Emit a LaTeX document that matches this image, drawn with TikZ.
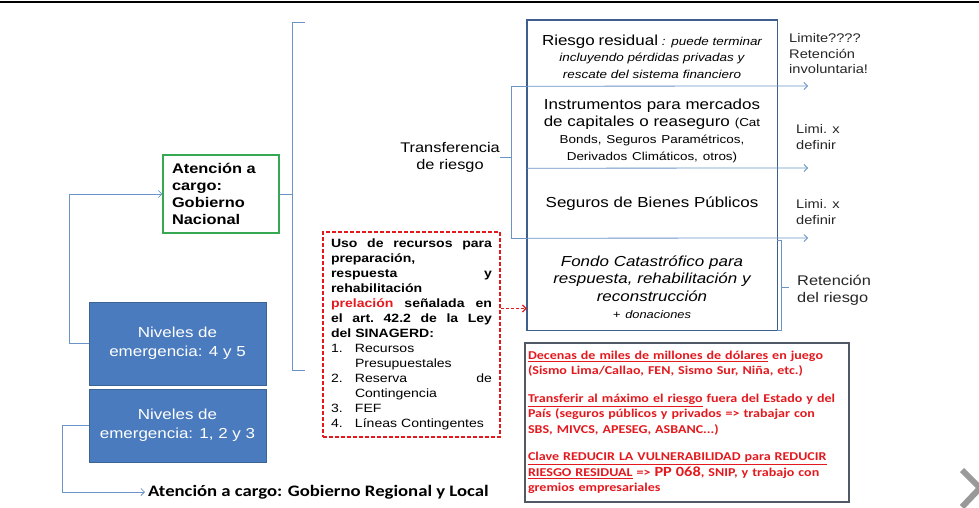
\documentclass[tikz,border=0pt]{standalone}
\usepackage{fontspec}
\setmainfont{Liberation Sans}[FakeStretch=1.17]
\newfontfamily\calib{Carlito}[FakeStretch=1.17]
\usetikzlibrary{arrows.meta}

\definecolor{linkblue}{HTML}{6A93C8}
\definecolor{framblue}{HTML}{3E5F8E}
\definecolor{nivfill}{HTML}{4A7BBE}
\definecolor{nivline}{HTML}{3B6494}
\definecolor{gobgreen}{HTML}{36A852}
\definecolor{alertred}{HTML}{E3191E}
\definecolor{notegray}{HTML}{505A66}

\begin{document}
\begin{tikzpicture}[x=1pt,y=-1pt,
    link/.style={draw=linkblue, line width=0.8pt},
    tip/.style={-{Straight Barb[length=3.5pt,width=7pt]}},
    nivel/.style={draw=nivline, fill=nivfill, text=white, minimum width=177pt,
        align=center, font=\fontsize{14.5}{19}\selectfont},
    gob/.style={draw=gobgreen, line width=1.1pt, minimum width=116pt, minimum height=78pt,
        text width=98pt, align=left, font=\bfseries\fontsize{14}{17}\selectfont},
    sect/.style={minimum width=250pt, text width=236pt, align=center, inner sep=0pt,
        font=\fontsize{14.5}{17}\selectfont},
    lbl/.style={align=left, inner sep=0pt, text=black!85,
        font=\fontsize{12.5}{15.5}\selectfont}]
\useasboundingbox (0,0) rectangle (979,507);
\draw[line width=2.5pt] (0,2) -- (979,2);

\node[nivel, minimum height=83pt] (N45) at (177.5,343.5) {Niveles de\\emergencia: 4 y 5};
\node[nivel, minimum height=73pt] (N123) at (177.5,425.5) {Niveles de\\emergencia: 1, 2 y 3};
\node[gob] (GN) at (221,194) {Atención a\\cargo:\\Gobierno\\Nacional};
\node[anchor=west, inner sep=3pt, font=\calib\bfseries\fontsize{16}{19}\selectfont] (RL) at (145,492)
    {Atención a cargo: Gobierno Regional y Local};

\draw[link,tip] (N45.west) -- ++(-19,0) |- (GN.west);
\draw[link,tip] (N123.west) -- ++(-26,0) |- (RL.west);

\coordinate (BT) at (305,22);
\coordinate (BB) at (305,370);
\draw[link] (BT) -- ++(-13,0) |- (BB);
\draw[link] (GN.east) -- +(13,0);

\coordinate (FT) at (527,20);
\node[sect, minimum height=59pt, font=\itshape\fontsize{11.5}{16.5}\selectfont] (RR) at (652,56.5)
    {{\upshape\fontsize{14.5}{16.5}\selectfont Riesgo residual} : puede terminar\\
     incluyendo pérdidas privadas y\\rescate del sistema financiero};
\node[sect, minimum height=74pt] (IM) at (652,131)
    {Instrumentos para mercados\\de capitales o reaseguro {\fontsize{11.5}{17}\selectfont (Cat}\\
     {\fontsize{11.5}{16.5}\selectfont Bonds, Seguros Paramétricos,}\\
     {\fontsize{11.5}{16.5}\selectfont Derivados Climáticos, otros)}};
\node[sect, minimum height=68pt] (SB) at (652,204) {Seguros de Bienes Públicos};
\node[sect, minimum height=86pt, font=\itshape\fontsize{14.5}{17.5}\selectfont] (FC) at (652,287)
    {Fondo Catastrófico para\\respuesta, rehabilitación y\\reconstrucción\\
     {\fontsize{11}{16}\selectfont + donaciones}};
\draw[draw=framblue, line width=1.4pt] (FT) rectangle (FC.south east);

\coordinate (L1) at (808,86);
\coordinate (L2) at (808,168);
\coordinate (L3) at (808,238);
\draw[link,tip] (RR.south west) -- (L1);
\draw[link,tip] (IM.south west) -- (L2);
\draw[link,tip] (SB.south west) -- (L3);

\node[lbl, anchor=west] (LR) at (789,54) {Limite????\\Retención\\involuntaria!};
\node[lbl, anchor=west] (LX1) at (796,137) {Limi. x\\definir};
\node[lbl, anchor=west] (LX2) at (796,212) {Limi. x\\definir};

\node[anchor=east, align=center, inner sep=0pt, font=\fontsize{14}{17}\selectfont] (TR) at (500,157)
    {Transferencia\\de riesgo};
\draw[link] (RR.south west) -- ++(-15,0) |- (SB.south west);
\draw[link] (TR.east) -- ++(12,0);

\draw[link] ([yshift=3pt]FC.north east) -- ++(4,0) |- (FC.south east);
\draw[link] ([xshift=4pt]FC.east) -- ++(8,0);
\node[lbl, anchor=west, font=\fontsize{14}{17}\selectfont] (RT) at (797,290) {Retención\\del riesgo};

\node[draw=alertred, line width=1.5pt, dash pattern=on 4pt off 2pt, minimum width=177pt,
    minimum height=205pt, text width=161pt, align=left, inner sep=0pt,
    font=\bfseries\fontsize{12}{15}\selectfont] (DR) at (411.5,334.5)
    {Uso\hfill de\hfill recursos\hfill para\\
     preparación,\\
     respuesta\hfill y\\
     rehabilitación\\
     {\color{alertred}prelación}\hfill señalada\hfill en\\
     el\hfill art.\hfill 42.2\hfill de\hfill la\hfill Ley\\
     del SINAGERD:\\
     \mdseries\makebox[24pt][l]{1.}Recursos\\
     \hspace*{24pt}Presupuestales\\
     \makebox[24pt][l]{2.}Reserva\hfill de\\
     \hspace*{24pt}Contingencia\\
     \makebox[24pt][l]{3.}FEF\\
     \makebox[24pt][l]{4.}Líneas Contingentes};
\draw[draw=alertred, line width=1.2pt, dash pattern=on 3pt off 2pt, tip] ([yshift=26pt]DR.east) -- ([yshift=26pt]DR.east -| FC.west);

\node[draw=notegray, line width=1.1pt, minimum width=324pt, minimum height=159pt, text width=318pt,
    inner xsep=3pt, align=left, text=alertred, font=\calib\bfseries\fontsize{12}{15.5}\selectfont] (RX) at (687,422.5)
    {\underline{Decenas de miles de millones de dólares} en juego\\
     (Sismo Lima/Callao, FEN, Sismo Sur, Niña, etc.)\\[12pt]
     \underline{Transferir al máximo el riesgo} fuera del Estado y del\\
     País (seguros públicos y privados => trabajar con\\
     SBS, MIVCS, APESEG, ASBANC...)\\[12pt]
     \underline{Clave REDUCIR LA VULNERABILIDAD para REDUCIR}\\
     \underline{RIESGO RESIDUAL} => {\fontsize{14}{15.5}\selectfont PP 068}, SNIP, y trabajo con\\
     gremios empresariales};

\draw[black!40, line width=6pt] (962,470) -- (980,488) -- (962,507);
\end{tikzpicture}
\end{document}
